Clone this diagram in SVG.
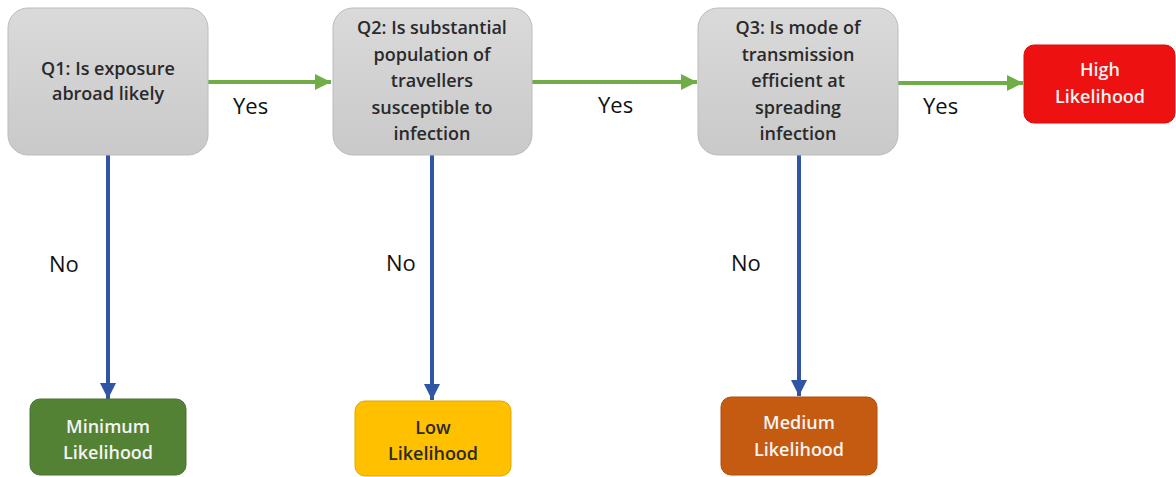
<svg xmlns="http://www.w3.org/2000/svg" width="1176" height="477" viewBox="0 0 1176 477">
<defs>
<linearGradient id="g" x1="0" y1="0" x2="0" y2="1">
<stop offset="0" stop-color="#dadada"/>
<stop offset="1" stop-color="#c9c9c9"/>
</linearGradient>
<marker id="ag" markerUnits="userSpaceOnUse" markerWidth="18" markerHeight="18" refX="16" refY="9" orient="auto">
<path d="M0,1 L16,9 L0,17 Z" fill="#70ad47"/>
</marker>
<marker id="ab" markerUnits="userSpaceOnUse" markerWidth="18" markerHeight="18" refX="16" refY="9" orient="auto">
<path d="M0,1 L16,9 L0,17 Z" fill="#2f55a4"/>
</marker>
</defs>
<style>
text{font-family:"Open Sans","Liberation Sans",sans-serif;font-size:18px;font-weight:600;text-anchor:middle}
.q{fill:url(#g);stroke:#bcbcbc;stroke-width:1}
.qt{fill:#2a2a2a}
.lbl{font-size:22px;font-weight:500;fill:#111;text-anchor:start}
.g{stroke:#70ad47;stroke-width:4;fill:none;marker-end:url(#ag)}
.b{stroke:#2f55a4;stroke-width:4;fill:none;marker-end:url(#ab)}
.w{fill:#f4f4f4}
</style>
<rect width="1176" height="477" fill="#fff"/>
<g id="connectors">
<line class="g" x1="208" y1="82" x2="331" y2="82"/>
<line class="g" x1="532" y1="82" x2="697" y2="82"/>
<line class="g" x1="898" y1="83" x2="1023" y2="83"/>
<line class="b" x1="108" y1="155" x2="108" y2="399"/>
<line class="b" x1="432" y1="155" x2="432" y2="400"/>
<line class="b" x1="799" y1="155" x2="799" y2="396"/>
<text class="lbl" x="233" y="114">Yes</text>
<text class="lbl" x="598" y="113">Yes</text>
<text class="lbl" x="923" y="114">Yes</text>
<text class="lbl" x="49" y="272">No</text>
<text class="lbl" x="386" y="271">No</text>
<text class="lbl" x="731" y="271">No</text>
</g>
<g id="q1">
<rect class="q" x="8" y="8" width="200" height="147" rx="20"/>
<text class="qt" x="108" y="75">Q1: Is exposure</text>
<text class="qt" x="108" y="100">abroad likely</text>
</g>
<g id="q2">
<rect class="q" x="333" y="8" width="199" height="147" rx="20"/>
<text class="qt" x="432" y="34">Q2: Is substantial</text>
<text class="qt" x="432" y="61">population of</text>
<text class="qt" x="432" y="87">travellers</text>
<text class="qt" x="432" y="114">susceptible to</text>
<text class="qt" x="432" y="140">infection</text>
</g>
<g id="q3">
<rect class="q" x="698" y="8" width="200" height="147" rx="20"/>
<text class="qt" x="798" y="34">Q3: Is mode of</text>
<text class="qt" x="798" y="61">transmission</text>
<text class="qt" x="798" y="87">efficient at</text>
<text class="qt" x="798" y="114">spreading</text>
<text class="qt" x="798" y="140">infection</text>
</g>
<g id="high">
<rect x="1024" y="45" width="151" height="78" rx="10" fill="#ee1111" stroke="#d80d0d"/>
<text class="w" x="1100" y="76">High</text>
<text class="w" x="1100" y="103">Likelihood</text>
</g>
<g id="minimum">
<rect x="30" y="399" width="156" height="76" rx="10" fill="#548235" stroke="#4a7330"/>
<text class="w" x="108" y="433">Minimum</text>
<text class="w" x="108" y="459">Likelihood</text>
</g>
<g id="low">
<rect x="355" y="401" width="156" height="75" rx="10" fill="#ffc000" stroke="#e0a800"/>
<text class="qt" x="433" y="434">Low</text>
<text class="qt" x="433" y="460">Likelihood</text>
</g>
<g id="medium">
<rect x="721" y="397" width="156" height="78" rx="10" fill="#c55a11" stroke="#b04f0e"/>
<text class="w" x="799" y="429">Medium</text>
<text class="w" x="799" y="456">Likelihood</text>
</g>
</svg>
